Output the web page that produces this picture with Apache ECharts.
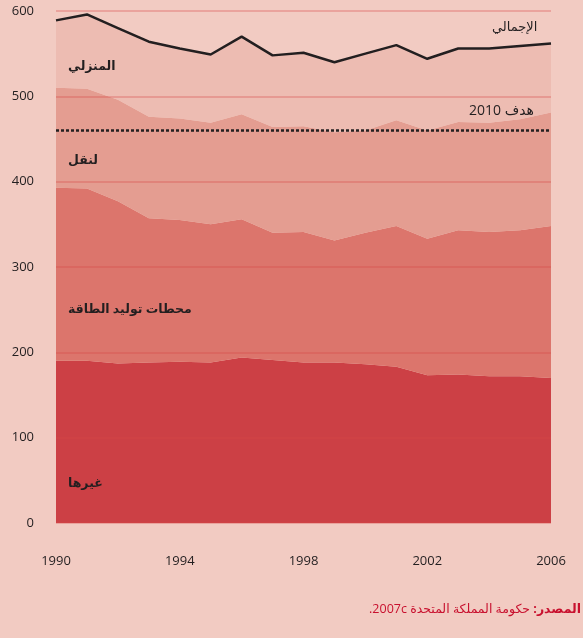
<!DOCTYPE html>
<html>
<head>
<meta charset="utf-8">
<script src="https://cdn.jsdelivr.net/npm/echarts@6/dist/echarts.min.js"></script>
<style>
  html, body { margin: 0; padding: 0; background: #f2cbc2; }
  #container { width: 583px; height: 638px; direction: rtl; }
</style>
</head>
<body>
<div id="container"></div>
<script>
var years = ['1990','1991','1992','1993','1994','1995','1996','1997','1998','1999','2000','2001','2002','2003','2004','2005','2006'];
// طبقات مكدسة من الأسفل إلى الأعلى
var others    = [190, 190, 187, 188, 189, 188, 194, 191, 188, 188, 186, 183, 173, 174, 172, 172, 170];
var power     = [203, 202, 190, 169, 166, 162, 162, 149, 153, 143, 154, 165, 160, 169, 169, 171, 178];
var transport = [117, 117, 119, 119, 119, 119, 123, 124, 124, 127, 120, 124, 127, 127, 128, 130, 133];
var domestic  = [ 79,  87,  84,  88,  82,  80,  91,  84,  86,  82,  90,  88,  84,  86,  87,  86,  81];
var total     = [589, 596, 580, 564, 556, 549, 570, 548, 551, 540, 550, 560, 544, 556, 556, 559, 562];
var target2010 = 460;
var yTicks = [0, 100, 200, 300, 400, 500, 600];

var myChart = echarts.init(document.getElementById('container'));
var font = '"Open Sans", "DejaVu Sans", sans-serif';
var dark = '#231f20';

function area(name, data, color) {
    return {
        name: name,
        type: 'line',
        stack: 'all',
        data: data,
        symbol: 'none',
        lineStyle: { width: 0 },
        areaStyle: { color: color, opacity: 1 },
        itemStyle: { color: color },
        z: 1
    };
}

function label(text, x, y, bold) {
    return {
        type: 'text',
        left: x, top: y,
        style: {
            text: text,
            fill: dark,
            font: (bold ? 'bold 12.5px ' : '13px ') + font
        },
        z: 10
    };
}

myChart.setOption({
    backgroundColor: '#f2cbc2',
    animation: false,
    grid: { left: 56, right: 32, top: 11, bottom: 115 },
    xAxis: {
        type: 'category',
        data: years,
        boundaryGap: false,
        axisLine: { show: false },
        axisTick: { show: false },
        axisLabel: {
            margin: 32,
            color: dark,
            fontSize: 13,
            fontFamily: font,
            interval: function (i) { return i % 4 === 0; }
        }
    },
    yAxis: {
        type: 'value',
        min: yTicks[0],
        max: yTicks[yTicks.length - 1],
        interval: 100,
        z: 3,
        axisLabel: { margin: 22, color: dark, fontSize: 13, fontFamily: font },
        splitLine: { lineStyle: { color: 'rgba(215,70,70,0.4)', width: 1.5 } }
    },
    graphic: [
        label('المنزلي', 68, 60, true),
        label('لنقل', 68, 154, true),
        label('محطات توليد الطاقة', 68, 303, true),
        label('غيرها', 68, 477, true),
        label('الإجمالي', 492, 21, false),
        { type: 'text', left: 469, top: 104, style: { text: 'هدف 2010', fill: dark, font: '14px ' + font }, z: 10 },
        {
            type: 'text', right: 2, top: 603,
            style: {
                text: '{r|حكومة المملكة المتحدة 2007c.}{s| }{b|المصدر:}',
                fill: '#c8102e',
                rich: {
                    r: { font: '12.5px ' + font, fill: '#c8102e' },
                    s: { font: '12.5px ' + font, fill: '#c8102e' },
                    b: { font: 'bold 12.5px ' + font, fill: '#c8102e' }
                }
            },
            z: 10
        }
    ],
    series: [
        area('غيرها', others, '#cc4045'),
        area('محطات توليد الطاقة', power, '#dc756c'),
        area('النقل', transport, '#e49d91'),
        area('المنزلي', domestic, '#edbcb2'),
        {
            name: 'الإجمالي',
            type: 'line',
            data: total,
            symbol: 'none',
            lineStyle: { color: dark, width: 2.5 },
            z: 5,
            markLine: {
                silent: true,
                symbol: 'none',
                label: { show: false },
                lineStyle: { color: dark, width: 2.5, type: [3, 2] },
                data: [{ yAxis: target2010 }]
            }
        }
    ]
});
</script>
</body>
</html>
